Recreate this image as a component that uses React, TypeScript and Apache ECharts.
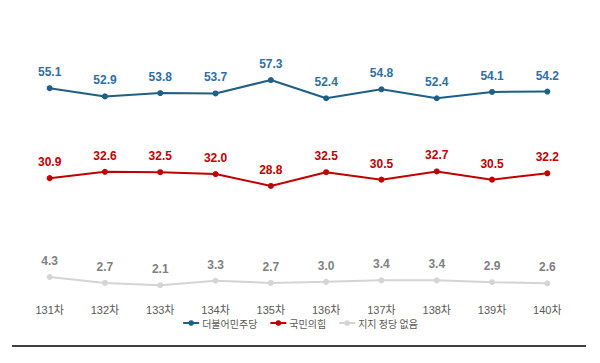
import React, { useEffect, useRef } from "react";
import * as echarts from "echarts";

const categories = ["131차", "132차", "133차", "134차", "135차", "136차", "137차", "138차", "139차", "140차"];
const democratic = [55.1, 52.9, 53.8, 53.7, 57.3, 52.4, 54.8, 52.4, 54.1, 54.2];
const ppp = [30.9, 32.6, 32.5, 32.0, 28.8, 32.5, 30.5, 32.7, 30.5, 32.2];
const none = [4.3, 2.7, 2.1, 3.3, 2.7, 3.0, 3.4, 3.4, 2.9, 2.6];
const seriesNames = ["더불어민주당", "국민의힘", "지지 정당 없음"];

export default function App() {
  const ref = useRef<HTMLDivElement>(null);
  useEffect(() => {
    if (!ref.current) return;
    const chart = echarts.init(ref.current, undefined, { renderer: "svg" });
    const mk = (name: string, data: number[], color: string, labelColor: string) => ({
      name,
      type: "line",
      data,
      symbol: "circle",
      symbolSize: 6,
      lineStyle: { color, width: 2 },
      itemStyle: { color },
      label: {
        show: true,
        position: "top",
        distance: 7,
        color: labelColor,
        fontWeight: "bold",
        fontSize: 12,
        fontFamily: "Liberation Sans, Arial, sans-serif",
        formatter: (p: any) => Number(p.value).toFixed(1),
      },
    });
    chart.setOption({
      animation: false,
      textStyle: { fontFamily: "Liberation Sans, Noto Sans CJK KR, sans-serif" },
      grid: { left: 22, right: 25, top: 70, bottom: 70 },
      xAxis: {
        type: "category",
        data: categories,
        boundaryGap: true,
        axisLine: { show: false },
        axisTick: { show: false },
        axisLabel: { color: "#595959", fontSize: 11, margin: 11, fontFamily: "Liberation Sans, Noto Sans CJK KR, sans-serif" },
      },
      yAxis: { type: "value", min: 0, max: 60, show: false, splitLine: { show: false } },
      legend: {
        data: seriesNames,
        bottom: 30,
        left: "center",
        itemWidth: 16,
        itemHeight: 7,
        itemGap: 12,
        textStyle: { color: "#595959", fontSize: 10, padding: [0, 0, 0, -2], fontFamily: "Noto Sans CJK KR, sans-serif" },
      },
      graphic: [
        {
          type: "line",
          shape: { x1: 12, y1: 346, x2: 586, y2: 346 },
          style: { stroke: "#404040", lineWidth: 2 },
        },
      ],
      series: [
        mk(seriesNames[0], democratic, "#1F5F85", "#2E6EA6"),
        mk(seriesNames[1], ppp, "#C00000", "#C00000"),
        mk(seriesNames[2], none, "#D4D4D4", "#7F7F7F"),
      ],
    });
    return () => chart.dispose();
  }, []);
  return <div ref={ref} style={{ width: 600, height: 363, margin: -8 }} />;
}
